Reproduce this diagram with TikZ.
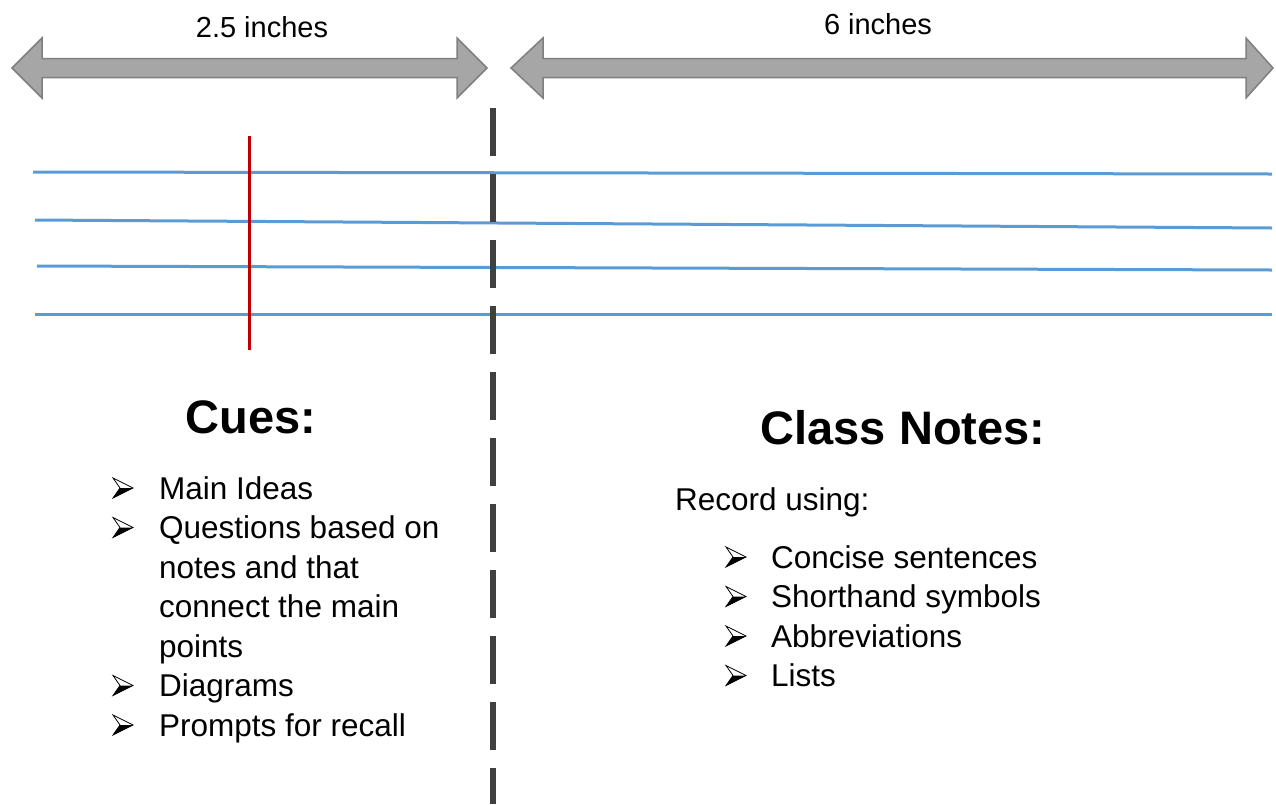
\documentclass[tikz,border=0pt]{standalone}
\usepackage{fontspec}
\setmainfont{Liberation Sans}
\usetikzlibrary{positioning}

\definecolor{ruleblue}{HTML}{5B9BD5}
\definecolor{marginred}{HTML}{C00000}
\definecolor{gaugefill}{HTML}{A6A6A6}
\definecolor{gaugeedge}{HTML}{7F7F7F}
\definecolor{folddark}{HTML}{404040}

\begin{document}
\begin{tikzpicture}[x=1pt, y=-1pt,
		gauge/.style={fill=gaugefill, draw=gaugeedge, line width=1.5pt, line join=miter},
		gaugelabel/.style={font=\fontsize{29}{34}\selectfont, inner sep=0pt, anchor=base},
		rule/.style={draw=ruleblue, line width=3pt},
		margin/.style={draw=marginred, line width=3pt},
		fold/.style={draw=folddark, line width=6pt, dash pattern=on 48pt off 18pt},
		heading/.style={font=\bfseries\fontsize{47}{56}\selectfont, inner sep=0pt, anchor=base},
		entry/.style={font=\fontsize{31.5}{38}\selectfont, inner sep=0pt, anchor=base west},
		cuebullet/.pic={
			\fill[white] (0,-21) -- (20,-11) -- (7,-11) -- cycle;
			\fill[black] (7,-11) -- (20,-11) -- (0,-1) -- cycle;
			\draw[line width=0.8pt, line join=miter] (0,-21) -- (20,-11) -- (0,-1) -- (7,-11) -- cycle;
		},
	]
	\useasboundingbox (0,0) rectangle (1276,804);

	% width gauges
	\draw[gauge] (12,68) -- (42,38) -- (42,58.5) -- (457,58.5) -- (457,38) -- (487,68) -- (457,98) -- (457,77.5) -- (42,77.5) -- (42,98) -- cycle;
	\draw[gauge] (511,68) -- (543,38) -- (543,58.5) -- (1246,58.5) -- (1246,38) -- (1273,68) -- (1246,98) -- (1246,77.5) -- (543,77.5) -- (543,98) -- cycle;
	\node[gaugelabel] (narrow) at (262,37) {2.5 inches};
	\node[gaugelabel] (wide) at (878,34) {6 inches};

	% ruled lines and margin
	\draw[rule] (33,172) -- (1272,174);
	\draw[rule] (35,220) -- (1272,228);
	\draw[rule] (37,266) -- (1272,270);
	\draw[rule] (35,314) -- (1272,314);
	\draw[margin] (249,136) -- (249,350);

	% fold between the two columns
	\draw[fold] (493,108) -- (493,804);

	% cue column
	\node[heading] (cues) at (251,433) {Cues:};
	\pic (cb1) at (113,499) {cuebullet};
	\node[entry] (c1) at (159,499) {Main Ideas};
	\pic (cb2) at (113,538.5) {cuebullet};
	\node[entry] (c2a) at (159,538.5) {Questions based on};
	\node[entry] (c2b) at (159,578) {notes and that};
	\node[entry] (c2c) at (159,617.5) {connect the main};
	\node[entry] (c2d) at (159,657) {points};
	\pic (cb3) at (113,696.5) {cuebullet};
	\node[entry] (c3) at (159,696.5) {Diagrams};
	\pic (cb4) at (113,736) {cuebullet};
	\node[entry] (c4) at (159,736) {Prompts for recall};

	% note column
	\node[heading] (notes) at (903,444) {Class Notes:};
	\node[entry] (record) at (675,510) {Record using:};
	\pic (nb1) at (726,568) {cuebullet};
	\node[entry] (n1) at (771,568) {Concise sentences};
	\pic (nb2) at (726,607.5) {cuebullet};
	\node[entry] (n2) at (771,607.5) {Shorthand symbols};
	\pic (nb3) at (726,647) {cuebullet};
	\node[entry] (n3) at (771,647) {Abbreviations};
	\pic (nb4) at (726,686.5) {cuebullet};
	\node[entry] (n4) at (771,686.5) {Lists};
\end{tikzpicture}
\end{document}
